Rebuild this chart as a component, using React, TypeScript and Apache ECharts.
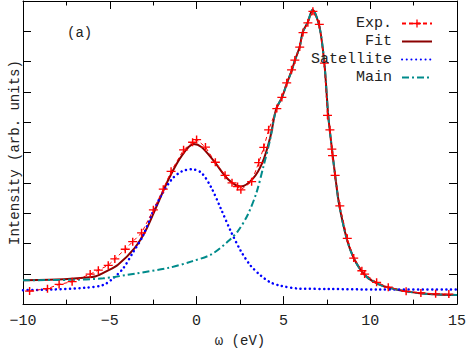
import React, { useEffect, useRef } from "react";
import * as echarts from "echarts";

const expX = [-9.62, -8.59, -7.92, -7.17, -6.13, -5.66, -5.09, -4.71, -4.11, -3.68, -3.17, -2.49, -1.92, -1.47, -0.75, -0.23, 0.0, 0.51, 1.08, 1.64, 2.04, 2.36, 2.55, 3.17, 3.58, 3.87, 4.15, 4.62, 4.91, 5.19, 5.47, 5.66, 5.94, 6.13, 6.41, 6.7, 7.07, 7.36, 7.54, 7.68, 7.79, 7.83, 7.98, 8.25, 8.68, 9.05, 9.52, 9.68, 10.37, 11.04, 12.07, 12.92, 13.77, 14.53];
const expY = [0.43, 0.51, 0.65, 0.74, 0.99, 1.12, 1.28, 1.49, 1.81, 2.06, 2.35, 3.11, 3.79, 4.38, 5.09, 5.34, 5.43, 5.18, 4.68, 4.25, 4.0, 3.88, 3.77, 4.04, 4.67, 5.17, 5.75, 6.45, 6.82, 7.3, 7.73, 8.05, 8.48, 8.96, 9.28, 9.66, 9.23, 7.95, 6.23, 5.75, 5.11, 4.9, 4.25, 3.24, 2.17, 1.52, 1.1, 0.99, 0.72, 0.56, 0.42, 0.37, 0.34, 0.33];

const fitX = [-10, -8.5, -7.64, -6.51, -5.8, -5.2, -4.53, -3.57, -2.94, -2.38, -1.58, -0.85, -0.17, 0.28, 1.02, 1.81, 2.55, 3.23, 3.79, 4.24, 4.58, 4.92, 5.21, 5.49, 5.66, 5.94, 6.11, 6.4, 6.68, 7.07, 7.36, 7.58, 7.81, 7.98, 8.21, 8.66, 9.05, 9.51, 9.9, 10.47, 11.04, 12.05, 13.01, 13.87, 15];
const fitY = [0.79, 0.8, 0.82, 0.87, 0.92, 1.08, 1.3, 1.85, 2.42, 3.13, 4.16, 4.9, 5.28, 5.18, 4.7, 4.12, 3.88, 4.13, 4.67, 5.5, 6.43, 6.82, 7.3, 7.72, 8.04, 8.49, 8.97, 9.29, 9.71, 9.17, 7.95, 6.24, 5.05, 4.25, 3.29, 2.13, 1.52, 1.08, 0.85, 0.66, 0.55, 0.42, 0.35, 0.32, 0.3];

const satX = [-10, -8.36, -6.44, -5.38, -4.81, -4.24, -3.68, -3.11, -2.55, -1.98, -1.41, -0.85, -0.28, 0.28, 0.85, 1.41, 1.98, 2.55, 3.11, 3.68, 4.24, 4.81, 5.94, 7.64, 10.47, 15];
const satY = [0.46, 0.48, 0.54, 0.63, 0.85, 1.17, 1.69, 2.23, 3.0, 3.64, 4.13, 4.38, 4.45, 4.33, 3.84, 3.13, 2.39, 1.75, 1.27, 0.95, 0.72, 0.61, 0.51, 0.5, 0.48, 0.48];

const mainX = [-10, -7.36, -5.38, -3.51, -1.58, -0.28, 0.85, 1.81, 2.38, 2.94, 3.45, 3.85, 4.24, 4.58, 4.92, 5.21, 5.49, 5.66, 5.94, 6.11, 6.4, 6.68, 7.07, 7.36, 7.58, 7.81, 7.98, 8.21, 8.66, 9.05, 9.51, 9.9, 10.47, 11.04, 12.05, 13.01, 13.87, 15];
const mainY = [0.79, 0.8, 0.85, 1.01, 1.2, 1.41, 1.64, 2.07, 2.41, 2.94, 3.68, 4.54, 5.44, 6.43, 6.82, 7.3, 7.72, 8.04, 8.49, 8.97, 9.29, 9.71, 9.17, 7.95, 6.24, 5.05, 4.25, 3.29, 2.13, 1.52, 1.08, 0.85, 0.66, 0.55, 0.42, 0.35, 0.32, 0.3];

const seriesNames = ["Exp.", "Fit", "Satellite", "Main"];
const xTicks = { min: -10, max: 15, interval: 5 };
const yTicks = { min: 0, max: 10, interval: 1 };

const zip = (xs: number[], ys: number[]) => xs.map((x, i) => [x, ys[i]]);

const FONT = "Liberation Mono";
const plusPath = "path://M0,4.2 H10 V5.8 H0 Z M4.2,0 H5.8 V10 H4.2 Z";

export default function App() {
  const ref = useRef<HTMLDivElement>(null);
  useEffect(() => {
    if (!ref.current) return;
    const chart = echarts.init(ref.current, null, { renderer: "svg" });
    const axisLine = { show: true, onZero: false, lineStyle: { color: "#000", width: 1 } };
    const tick = { show: true, inside: true, length: 8, lineStyle: { color: "#000" } };
    const minor = { show: true, splitNumber: 2, length: 4.5, lineStyle: { color: "#000" } };
    chart.setOption({
      animation: false,
      backgroundColor: "#fff",
      grid: { left: 19, right: 8.5, top: 1, bottom: 40.5 },
      legend: {
        orient: "vertical",
        right: 31,
        top: 11,
        align: "right",
        itemWidth: 30,
        itemHeight: 10,
        itemGap: 3,
        data: seriesNames.map((n, i) => (i === 0 ? n : { name: n, itemStyle: { opacity: 0 } })),
        textStyle: { fontFamily: FONT, fontSize: 15, color: "#222", padding: [0, 5, 0, 0], lineHeight: 15 },
      },
      graphic: [
        { type: "text", left: 67, top: 26, style: { text: "(a)", font: `14px ${FONT}`, fill: "#222" } },
      ],
      xAxis: [
        {
          type: "value",
          min: xTicks.min,
          max: xTicks.max,
          interval: xTicks.interval,
          position: "bottom",
          axisLine,
          axisTick: tick,
          minorTick: minor,
          splitLine: { show: false },
          axisLabel: {
            fontFamily: FONT,
            fontSize: 15,
            color: "#222",
            margin: 10,
            formatter: (v: number) => String(v).replace("-", "\u2212"),
          },
          name: "\u03c9 (eV)",
          nameLocation: "middle",
          nameGap: 26,
          nameTextStyle: { fontFamily: FONT, fontSize: 14, color: "#222" },
        },
        {
          type: "value",
          min: xTicks.min,
          max: xTicks.max,
          interval: xTicks.interval,
          position: "top",
          axisLine,
          axisTick: tick,
          minorTick: minor,
          splitLine: { show: false },
          axisLabel: { show: false },
        },
      ],
      yAxis: [
        {
          type: "value",
          min: yTicks.min,
          max: yTicks.max,
          interval: yTicks.interval,
          position: "left",
          axisLine,
          axisTick: tick,
          splitLine: { show: false },
          axisLabel: { show: false },
          name: "Intensity (arb. units)",
          nameLocation: "middle",
          nameGap: 1,
          nameTextStyle: { fontFamily: FONT, fontSize: 14, color: "#222" },
        },
        {
          type: "value",
          min: yTicks.min,
          max: yTicks.max,
          interval: yTicks.interval,
          position: "right",
          axisLine,
          axisTick: tick,
          splitLine: { show: false },
          axisLabel: { show: false },
        },
      ],
      series: [
        {
          name: "Exp.",
          type: "line",
          data: zip(expX, expY),
          symbol: plusPath,
          symbolSize: [9, 8],
          itemStyle: { color: "#ff0000" },
          lineStyle: { color: "#ff0000", width: 1, type: [4, 3] },
          z: 3,
        },
        {
          name: "Fit",
          type: "line",
          data: zip(fitX, fitY),
          showSymbol: false,
          symbol: "none",
          smooth: 0.3,
          itemStyle: { color: "#8b0000" },
          lineStyle: { color: "#8b0000", width: 2 },
          z: 2,
        },
        {
          name: "Satellite",
          type: "line",
          data: zip(satX, satY),
          showSymbol: false,
          symbol: "none",
          smooth: 0.3,
          itemStyle: { color: "#0000ff" },
          lineStyle: { color: "#0000ff", width: 2.5, type: [0.1, 4.6], cap: "round" },
          z: 2,
        },
        {
          name: "Main",
          type: "line",
          data: zip(mainX, mainY),
          showSymbol: false,
          symbol: "none",
          smooth: 0.3,
          itemStyle: { color: "#008b8b" },
          lineStyle: { color: "#008b8b", width: 2, type: [7, 3, 2, 3] },
          z: 2,
        },
      ],
    });
    return () => chart.dispose();
  }, []);
  return <div ref={ref} style={{ width: 469, height: 353, position: "absolute", left: 0, top: 0 }} />;
}
